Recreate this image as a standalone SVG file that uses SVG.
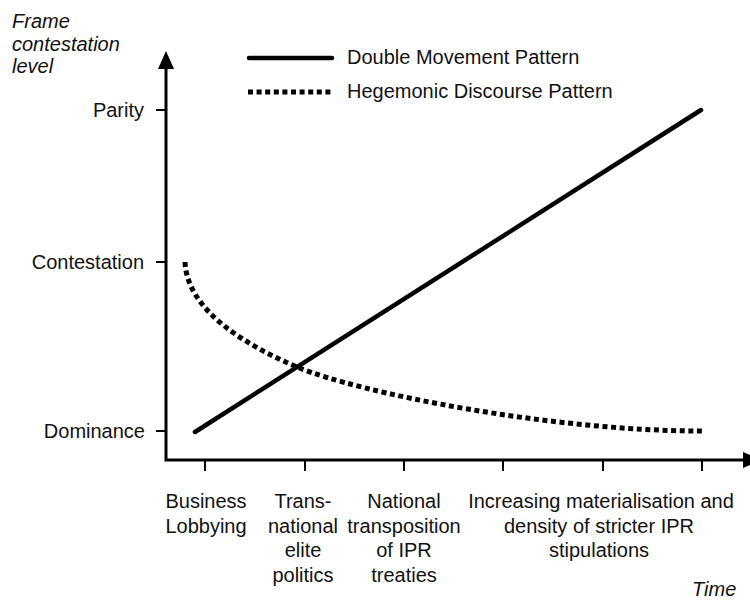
<svg xmlns="http://www.w3.org/2000/svg" width="750" height="602" viewBox="0 0 750 602">
  <style>
    text { font-family: "Liberation Sans", Arial, Helvetica, sans-serif; font-size: 20px; fill: #111; }
    .it { font-style: italic; }
    .r { text-anchor: end; }
    .c { text-anchor: middle; }
    .axis { stroke: #000; stroke-width: 3; fill: none; }
    .tick { stroke: #000; stroke-width: 2; fill: none; }
    .solid { stroke: #000; stroke-width: 4.5; fill: none; stroke-linecap: round; }
    .dotted { stroke: #000; stroke-width: 5; fill: none; stroke-dasharray: 5 3.6; }
  </style>

  <!-- axes -->
  <g id="axes">
    <path class="axis" d="M166,66 V460 H745"/>
    <polygon points="166,51 158,69 174,69" fill="#000"/>
    <polygon points="761,460 743,452 743,468" fill="#000"/>
    <text class="it" x="12" y="28">Frame</text>
    <text class="it" x="12" y="51">contestation</text>
    <text class="it" x="12" y="73">level</text>
    <text class="it" x="692" y="596">Time</text>
  </g>

  <!-- level ticks -->
  <g id="y-levels">
    <path class="tick" d="M156,110 H166 M156,262 H166 M156,431 H166"/>
    <text class="r" x="144" y="117">Parity</text>
    <text class="r" x="144" y="269">Contestation</text>
    <text class="r" x="145" y="438">Dominance</text>
  </g>

  <!-- time ticks -->
  <g id="x-phases">
    <path class="tick" d="M205,460 V471 M305,460 V471 M404,460 V471 M503,460 V471 M603,460 V471 M702,460 V471"/>
    <g id="phase-business">
      <text class="c" x="206" y="508">Business</text>
      <text class="c" x="206" y="533">Lobbying</text>
    </g>
    <g id="phase-transnational">
      <text class="c" x="303" y="508">Trans-</text>
      <text class="c" x="303" y="533">national</text>
      <text class="c" x="303" y="557">elite</text>
      <text class="c" x="303" y="582">politics</text>
    </g>
    <g id="phase-national">
      <text class="c" x="404" y="508">National</text>
      <text class="c" x="404" y="533">transposition</text>
      <text class="c" x="404" y="557">of IPR</text>
      <text class="c" x="404" y="582">treaties</text>
    </g>
    <g id="phase-increasing">
      <text class="c" x="601" y="508">Increasing materialisation and</text>
      <text class="c" x="599" y="533">density of stricter IPR</text>
      <text class="c" x="599" y="557">stipulations</text>
    </g>
  </g>

  <!-- patterns -->
  <g id="connectors">
    <path id="double-movement" class="solid" d="M195,432 L701,110"/>
    <path id="hegemonic-discourse" class="dotted" d="M185,262 C187,310 245,345 297,367 C360,393 550,431 702,431"/>
  </g>

  <!-- legend -->
  <g id="legend">
    <path class="solid" d="M249,58 H332"/>
    <text x="347" y="64">Double Movement Pattern</text>
    <path class="dotted" d="M248,92 H331"/>
    <text x="347" y="98">Hegemonic Discourse Pattern</text>
  </g>
</svg>
